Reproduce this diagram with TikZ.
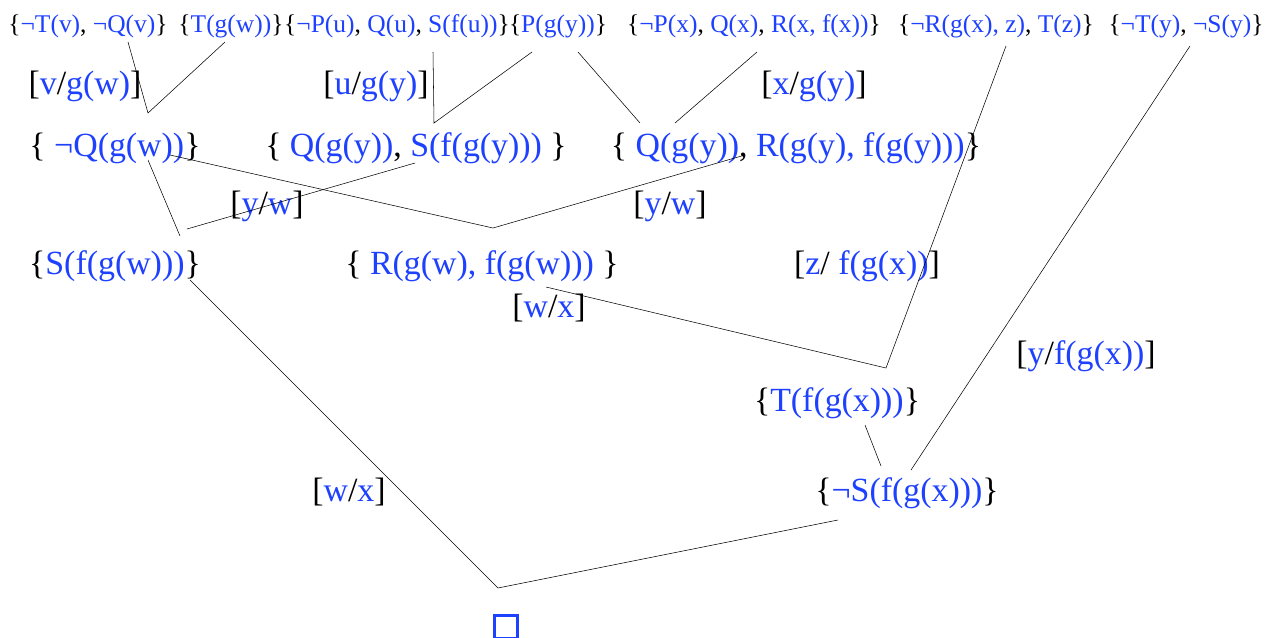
\documentclass[tikz,border=0pt]{standalone}
\usepackage{fontspec}
\setmainfont{Liberation Serif}
\definecolor{litblue}{RGB}{30,64,255}
\newcommand{\lit}[1]{\textcolor{litblue}{#1}}

\begin{document}
\begin{tikzpicture}[x=0.75pt, y=-0.75pt,
    clause/.style={anchor=base, inner sep=0pt, font=\fontsize{25.4}{30}\selectfont},
    topclause/.style={anchor=base, inner sep=0pt, font=\fontsize{19.1}{22}\selectfont},
    subst/.style={anchor=base, inner sep=0pt, font=\fontsize{25.4}{30}\selectfont}]
    \useasboundingbox (0,0) rectangle (1271,637);

    % Input clauses
    \node[topclause] (c1) at (88,32)   {\{\lit{¬T(v)}, \lit{¬Q(v)}\}};
    \node[topclause] (c2) at (231,32)  {\{\lit{T(g(w))}\}};
    \node[topclause] (c3) at (397,32)  {\{\lit{¬P(u)}, \lit{Q(u)}, \lit{S(f(u))}\}};
    \node[topclause] (c4) at (558,32)  {\{\lit{P(g(y))}\}};
    \node[topclause] (c5) at (754,32)  {\{\lit{¬P(x)}, \lit{Q(x)}, \lit{R(x, f(x))}\}};
    \node[topclause] (c6) at (996,32)  {\{\lit{¬R(g(x), z)}, \lit{T(z)}\}};
    \node[topclause] (c7) at (1186,32) {\{\lit{¬T(y)}, \lit{¬S(y)}\}};

    % Resolvents
    \node[clause] (r1) at (115,156) {\{ \lit{¬Q(g(w))}\}};
    \node[clause] (r2) at (416,156) {\{ \lit{Q(g(y))}, \lit{S(f(g(y)))} \}};
    \node[clause] (r3) at (796,156) {\{ \lit{Q(g(y))}, \lit{R(g(y), f(g(y)))}\}};
    \node[clause] (r4) at (115,274) {\{\lit{S(f(g(w)))}\}};
    \node[clause] (r5) at (482,274) {\{ \lit{R(g(w), f(g(w)))} \}};
    \node[clause] (r6) at (837,411) {\{\lit{T(f(g(x)))}\}};
    \node[clause] (r7) at (907,501) {\{\lit{¬S(f(g(x)))}\}};
    \node[draw=litblue, line width=1.8pt, minimum size=17, inner sep=0pt] (empty) at (506,627) {};

    % Substitutions
    \node[subst] (s1) at (85,94)    {[\lit{v}/\lit{g(w)}]};
    \node[subst] (s2) at (376,94)   {[\lit{u}/\lit{g(y)}]};
    \node[subst] (s3) at (814,94)   {[\lit{x}/\lit{g(y)}]};
    \node[subst] (s4) at (267,214)  {[\lit{y}/\lit{w}]};
    \node[subst] (s5) at (670,214)  {[\lit{y}/\lit{w}]};
    \node[subst] (s6) at (867,274)  {[\lit{z}/ \lit{f(g(x))}]};
    \node[subst] (s7) at (549,317)  {[\lit{w}/\lit{x}]};
    \node[subst] (s8) at (1086,364) {[\lit{y}/\lit{f(g(x))}]};
    \node[subst] (s9) at (349,501)  {[\lit{w}/\lit{x}]};

    % Ends of the resolution lines
    \coordinate (c1q) at (128,42);   \coordinate (c2t) at (225,42);
    \coordinate (c3p) at (433,52);   \coordinate (c4l) at (532,52);
    \coordinate (c4r) at (578,52);   \coordinate (c5p) at (757,52);
    \coordinate (c6r) at (1006,46);  \coordinate (c7s) at (1190,46);
    \coordinate (r1q) at (148,160);  \coordinate (r1r) at (170,155);
    \coordinate (r2s) at (415,163);  \coordinate (r3q) at (745,155);
    \coordinate (r3a) at (640,123);  \coordinate (r3b) at (675,123);
    \coordinate (r4a) at (180,236);  \coordinate (r4b) at (187,229);
    \coordinate (r4s) at (190,280);  \coordinate (r5r) at (546,287);
    \coordinate (r6t) at (865,425);  \coordinate (r7a) at (881,466);
    \coordinate (r7b) at (911,470);  \coordinate (r7s) at (838,520);
    \coordinate (j1) at (148,113);   \coordinate (j2) at (434,123);
    \coordinate (j3) at (493,228);   \coordinate (j4) at (886,368);
    \coordinate (j5) at (498,588);

    % Resolution lines
    \draw (c1q) -- (j1) -- (c2t);
    \draw (c3p) -- (j2) -- (c4l);
    \draw (c4r) -- (r3a);
    \draw (c5p) -- (r3b);
    \draw (r1q) -- (r4a);
    \draw (r2s) -- (r4b);
    \draw (r1r) -- (j3) -- (r3q);
    \draw (c6r) -- (j4) -- (r5r);
    \draw (r6t) -- (r7a);
    \draw (c7s) -- (r7b);
    \draw (r4s) -- (j5) -- (r7s);
\end{tikzpicture}
\end{document}
